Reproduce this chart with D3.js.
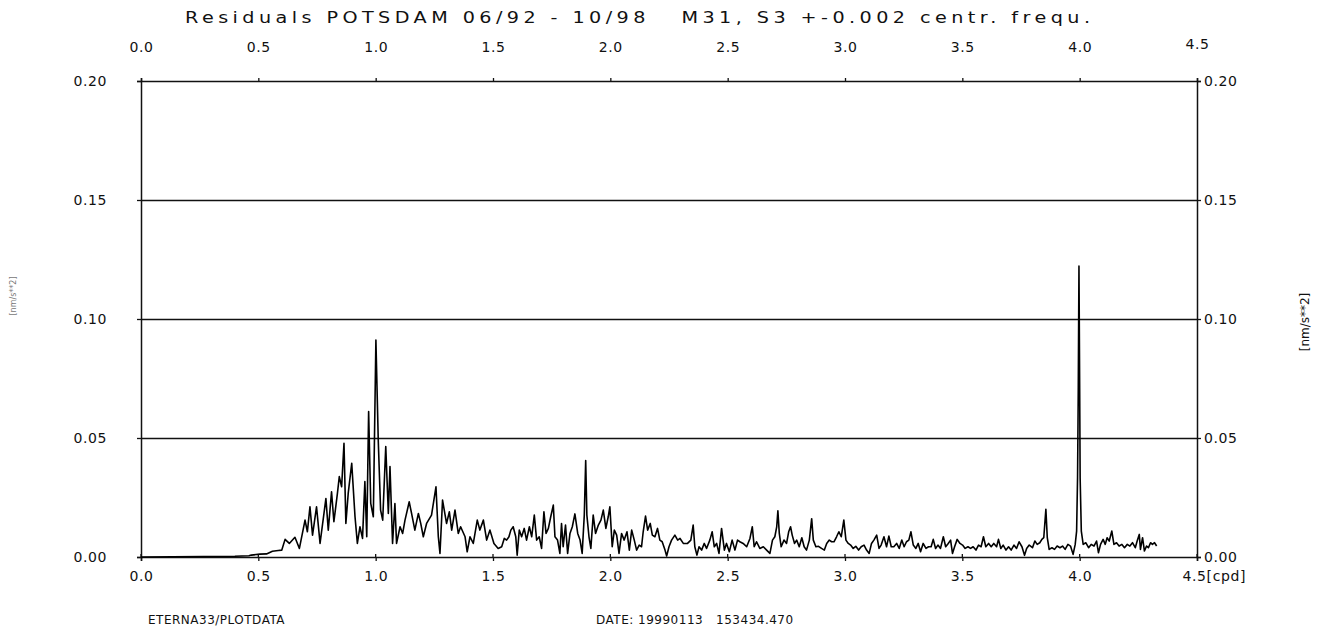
<!DOCTYPE html>
<html>
<head>
<meta charset="utf-8">
<script src="https://cdn.jsdelivr.net/npm/d3@7"></script>
<style>
  body { margin: 0; background: #fff; }
  svg { display: block; }
  text { font-family: "DejaVu Sans", sans-serif; fill: #111; }
</style>
</head>
<body>
<div id="chart"></div>
<script>
// frequency (cpd) of each vertex of the residual spectrum
var freq = [0.00, 0.40, 0.46, 0.470, 0.507, 0.535, 0.560, 0.585, 0.600, 0.614, 0.632, 0.656, 0.675, 0.699, 0.709, 0.720, 0.731, 0.748, 0.763, 0.788, 0.798,
  0.812, 0.822, 0.837, 0.845, 0.855, 0.865, 0.873, 0.883, 0.898, 0.912, 0.922, 0.933, 0.944, 0.954, 0.962, 0.970, 0.979, 0.990,
  1.001, 1.011, 1.021, 1.030, 1.043, 1.054, 1.061, 1.072, 1.082, 1.089, 1.104, 1.115, 1.125, 1.143, 1.153, 1.167, 1.182, 1.192,
  1.203, 1.217, 1.238, 1.257, 1.267, 1.274, 1.285, 1.302, 1.314, 1.324, 1.338, 1.352, 1.362, 1.381, 1.390, 1.402, 1.416, 1.433,
  1.444, 1.459, 1.473, 1.487, 1.504,
  1.522, 1.537, 1.548, 1.558, 1.568, 1.576, 1.586, 1.597, 1.603, 1.612, 1.622, 1.633, 1.643, 1.655, 1.665, 1.676, 1.686, 1.697,
  1.707, 1.717, 1.726, 1.736, 1.746, 1.757, 1.764, 1.775, 1.785, 1.792, 1.799, 1.809, 1.818, 1.828, 1.838, 1.849, 1.861, 1.871,
  1.880, 1.889, 1.895, 1.900, 1.909, 1.917, 1.927, 1.937, 1.949, 1.960, 1.970, 1.981, 1.991, 1.998, 2.008, 2.017, 2.027, 2.037,
  2.048, 2.059, 2.071, 2.081, 2.091, 2.102, 2.112, 2.123, 2.133, 2.140, 2.150, 2.159, 2.170, 2.179, 2.190, 2.201, 2.211, 2.221,
  2.233, 2.240, 2.250, 2.261, 2.275, 2.287, 2.297, 2.311, 2.329, 2.343, 2.353, 2.360, 2.369, 2.378, 2.389, 2.400, 2.410, 2.424,
  2.434, 2.443, 2.453, 2.463, 2.474, 2.486, 2.495, 2.507, 2.519, 2.531, 2.542, 2.552, 2.566, 2.581, 2.595, 2.605, 2.613, 2.623,
  2.637, 2.652, 2.666, 2.680, 2.691, 2.701, 2.709, 2.714, 2.720, 2.728, 2.740, 2.751, 2.760, 2.768, 2.775, 2.785, 2.794, 2.805,
  2.816, 2.826, 2.836, 2.848, 2.858, 2.865, 2.876, 2.887, 2.900, 2.912, 2.922, 2.933, 2.943, 2.953, 2.964, 2.974, 2.984, 2.995,
  3.004, 3.014, 3.024, 3.035, 3.046, 3.058, 3.069, 3.081, 3.092, 3.103, 3.113, 3.123, 3.135, 3.145, 3.154, 3.166, 3.177, 3.187,
  3.197, 3.208, 3.220, 3.231, 3.242, 3.252, 3.262, 3.272, 3.281, 3.291, 3.302, 3.312, 3.322, 3.333, 3.345, 3.356, 3.367, 3.376,
  3.386, 3.396, 3.407, 3.419, 3.429, 3.440, 3.450, 3.458, 3.467, 3.478, 3.490, 3.501, 3.512, 3.524, 3.535, 3.546, 3.558, 3.569,
  3.580, 3.590, 3.600, 3.612, 3.623, 3.634, 3.646, 3.654, 3.664, 3.674, 3.686, 3.697, 3.708, 3.720, 3.731, 3.742, 3.754, 3.765,
  3.774, 3.785, 3.799, 3.809, 3.819, 3.830, 3.839, 3.847, 3.856, 3.862, 3.870, 3.882, 3.893, 3.904, 3.916, 3.927, 3.938, 3.950,
  3.961, 3.972, 3.981, 3.987, 3.991, 3.994, 3.997, 4.000, 4.002, 4.007, 4.015, 4.026, 4.038, 4.049, 4.061, 4.072, 4.080, 4.089,
  4.100, 4.109, 4.117, 4.126, 4.137, 4.146, 4.157, 4.168, 4.180, 4.191, 4.203, 4.214, 4.225, 4.237, 4.245, 4.254, 4.259, 4.268,
  4.276, 4.285, 4.293, 4.302, 4.310, 4.319, 4.328];

// amplitude [nm/s**2] at each vertex
var amp = [0.0000, 0.0003, 0.0005, 0.0008, 0.0012, 0.0013, 0.0024, 0.0027, 0.0029, 0.0074, 0.0057, 0.0083, 0.0036, 0.0155, 0.0106, 0.0211, 0.0092, 0.0211, 0.0057, 0.0246, 0.0113,
  0.0274, 0.0148, 0.0267, 0.0338, 0.0295, 0.0478, 0.0141, 0.0267, 0.0394, 0.0169, 0.0057, 0.0127, 0.0078, 0.0317, 0.0085, 0.0611, 0.0225, 0.0169,
  0.0912, 0.0492, 0.0197, 0.0155, 0.0464, 0.0183, 0.0380, 0.0057, 0.0225, 0.0057, 0.0127, 0.0099, 0.0155, 0.0232, 0.0183, 0.0113, 0.0183, 0.0141,
  0.0085, 0.0141, 0.0176, 0.0295, 0.0085, 0.0015, 0.0239, 0.0141, 0.0190, 0.0113, 0.0197, 0.0099, 0.0127, 0.0085, 0.0022, 0.0085, 0.0057, 0.0155,
  0.0113, 0.0155, 0.0071, 0.0113, 0.0057,
  0.0036, 0.0043, 0.0078, 0.0071, 0.0085, 0.0113, 0.0127, 0.0085, 0.0008, 0.0113, 0.0085, 0.0120, 0.0071, 0.0127, 0.0085, 0.0176, 0.0071, 0.0085,
  0.0036, 0.0190, 0.0099, 0.0120, 0.0169, 0.0218, 0.0085, 0.0071, 0.0015, 0.0141, 0.0043, 0.0134, 0.0015, 0.0099, 0.0127, 0.0181, 0.0099, 0.0071,
  0.0015, 0.0176, 0.0405, 0.0176, 0.0085, 0.0036, 0.0176, 0.0099, 0.0134, 0.0155, 0.0197, 0.0120, 0.0169, 0.0211, 0.0043, 0.0113, 0.0092, 0.0015,
  0.0099, 0.0071, 0.0106, 0.0029, 0.0113, 0.0071, 0.0029, 0.0050, 0.0043, 0.0106, 0.0172, 0.0113, 0.0141, 0.0092, 0.0085, 0.0120, 0.0071, 0.0064,
  0.0029, 0.0004, 0.0043, 0.0071, 0.0092, 0.0071, 0.0078, 0.0057, 0.0057, 0.0071, 0.0134, 0.0043, 0.0008, 0.0043, 0.0029, 0.0057, 0.0036, 0.0071,
  0.0106, 0.0043, 0.0057, 0.0015, 0.0120, 0.0029, 0.0057, 0.0022, 0.0071, 0.0029, 0.0071, 0.0064, 0.0057, 0.0043, 0.0078, 0.0127, 0.0043, 0.0064,
  0.0036, 0.0043, 0.0029, 0.0015, 0.0071, 0.0085, 0.0127, 0.0194, 0.0099, 0.0043, 0.0071, 0.0057, 0.0106, 0.0127, 0.0092, 0.0057, 0.0071, 0.0043,
  0.0081, 0.0043, 0.0029, 0.0071, 0.0161, 0.0071, 0.0043, 0.0045, 0.0036, 0.0029, 0.0057, 0.0071, 0.0064, 0.0064, 0.0085, 0.0106, 0.0085, 0.0155,
  0.0071, 0.0057, 0.0050, 0.0036, 0.0045, 0.0029, 0.0043, 0.0050, 0.0029, 0.0015, 0.0057, 0.0071, 0.0092, 0.0036, 0.0050, 0.0085, 0.0043, 0.0088,
  0.0043, 0.0043, 0.0057, 0.0036, 0.0071, 0.0043, 0.0064, 0.0071, 0.0106, 0.0050, 0.0036, 0.0057, 0.0022, 0.0057, 0.0036, 0.0043, 0.0043, 0.0074,
  0.0036, 0.0050, 0.0036, 0.0085, 0.0043, 0.0057, 0.0071, 0.0015, 0.0043, 0.0074, 0.0057, 0.0050, 0.0036, 0.0043, 0.0036, 0.0043, 0.0029, 0.0050,
  0.0043, 0.0085, 0.0043, 0.0057, 0.0043, 0.0057, 0.0043, 0.0074, 0.0036, 0.0050, 0.0029, 0.0043, 0.0029, 0.0050, 0.0036, 0.0064, 0.0043, 0.0007,
  0.0036, 0.0050, 0.0039, 0.0067, 0.0053, 0.0060, 0.0074, 0.0081, 0.0200, 0.0081, 0.0032, 0.0039, 0.0032, 0.0046, 0.0039, 0.0046, 0.0032, 0.0053,
  0.0046, 0.0011, 0.0053, 0.0109, 0.0333, 0.0697, 0.1222, 0.0711, 0.0333, 0.0109, 0.0053, 0.0060, 0.0039, 0.0053, 0.0046, 0.0067, 0.0018, 0.0053,
  0.0074, 0.0053, 0.0081, 0.0067, 0.0109, 0.0053, 0.0060, 0.0046, 0.0053, 0.0039, 0.0053, 0.0046, 0.0060, 0.0039, 0.0067, 0.0095, 0.0032, 0.0081,
  0.0025, 0.0046, 0.0039, 0.0060, 0.0053, 0.0060, 0.0046];

var xTicks = [0.0, 0.5, 1.0, 1.5, 2.0, 2.5, 3.0, 3.5, 4.0, 4.5];
var yTicks = [0.00, 0.05, 0.10, 0.15, 0.20];
var gridLevels = [0.05, 0.10, 0.15];

var titleText = "Residuals POTSDAM 06/92 - 10/98   M31, S3 +-0.002 centr. frequ.";
var unitText = "[nm/s**2]";
var footLeft = "ETERNA33/PLOTDATA";
var footRight = "DATE: 19990113   153434.470";

var svgWidth = 1325, svgHeight = 633;
var margin = { top: 81, right: 128, bottom: 76, left: 141 };
var width = svgWidth - margin.left - margin.right;
var height = svgHeight - margin.top - margin.bottom;

var svg = d3.select("#chart").append("svg")
  .attr("width", svgWidth)
  .attr("height", svgHeight);

var chartGroup = svg.append("g")
  .attr("transform", `translate(${margin.left}, ${margin.top})`);

var xScale = d3.scaleLinear().domain([0, 4.5]).range([0, width]);
var yScale = d3.scaleLinear().domain([0, 0.20]).range([height, 0]);

var fmtX = d3.format(".1f");
var fmtY = d3.format(".2f");

// grid lines
chartGroup.append("g").selectAll("line")
  .data(gridLevels)
  .enter().append("line")
  .attr("x1", 0).attr("x2", width)
  .attr("y1", d => Math.round(yScale(d)) + 0.5).attr("y2", d => Math.round(yScale(d)) + 0.5)
  .attr("stroke", "#111").attr("stroke-width", 1.4);

// axes
var bottomAxis = d3.axisBottom(xScale).tickValues(xTicks).tickSize(4).tickPadding(10)
  .tickFormat(d => d === 4.5 ? "4.5[cpd]" : fmtX(d));
var topAxis = d3.axisTop(xScale).tickValues(xTicks).tickSize(3).tickPadding(26).tickFormat(fmtX);
var leftAxis = d3.axisLeft(yScale).tickValues(yTicks).tickSize(4).tickPadding(30).tickFormat(fmtY);
var rightAxis = d3.axisRight(yScale).tickValues(yTicks).tickSize(4).tickPadding(3).tickFormat(fmtY);

function styleAxis(g) {
  g.select(".domain").attr("stroke", "#111").attr("stroke-width", 1.5);
  g.selectAll(".tick line").attr("stroke", "#111").attr("stroke-width", 1.3);
  g.selectAll(".tick text")
    .style("font-family", "'DejaVu Sans', sans-serif")
    .style("font-size", "14px")
    .style("letter-spacing", "0.6px")
    .attr("fill", "#1a1a1a");
}

chartGroup.append("g").attr("transform", `translate(0, ${height})`).call(bottomAxis).call(styleAxis)
  .selectAll(".tick text").filter(d => d === 4.5)
  .attr("text-anchor", "start").attr("dx", -15);
chartGroup.append("g").call(topAxis).call(styleAxis)
  .selectAll(".tick text").filter(d => d === 4.5).attr("dy", -3);
chartGroup.append("g").call(leftAxis).call(styleAxis);
chartGroup.append("g").attr("transform", `translate(${width}, 0)`).call(rightAxis).call(styleAxis);

// inner cross ticks on bottom axis
chartGroup.append("g").selectAll("line")
  .data(xTicks)
  .enter().append("line")
  .attr("x1", d => xScale(d)).attr("x2", d => xScale(d))
  .attr("y1", height - 3).attr("y2", height)
  .attr("stroke", "#111").attr("stroke-width", 1.3);

// spectrum line
var pts = freq.map((f, i) => ({ f: f, a: amp[i] }));
var line = d3.line().x(d => xScale(d.f)).y(d => yScale(d.a));
chartGroup.append("path")
  .datum(pts)
  .attr("d", line)
  .attr("fill", "none")
  .attr("stroke", "#000")
  .attr("stroke-width", 1.6)
  .attr("stroke-linejoin", "round");

// title (wide plotter-style lettering)
svg.append("g")
  .attr("transform", "translate(185, 23) scale(1.2, 1)")
  .append("text")
  .attr("x", 0).attr("y", 0)
  .attr("textLength", 905 / 1.2).attr("lengthAdjust", "spacing")
  .style("font-size", "16px")
  .attr("fill", "#1a1a1a")
  .attr("xml:space", "preserve")
  .text(titleText);

// unit labels
svg.append("text")
  .attr("transform", "translate(1309, 322) rotate(-90)")
  .attr("text-anchor", "middle")
  .style("font-size", "12px")
  .text(unitText);
svg.append("text")
  .attr("transform", "translate(16, 296) rotate(-90)")
  .attr("text-anchor", "middle")
  .style("font-size", "8px")
  .style("fill", "#777")
  .text(unitText);

// footer
svg.append("text")
  .attr("x", 148).attr("y", 624)
  .style("font-size", "12px").style("letter-spacing", "0.5px")
  .text(footLeft);
svg.append("text")
  .attr("x", 596).attr("y", 624)
  .style("font-size", "12px").style("letter-spacing", "0.5px")
  .attr("xml:space", "preserve")
  .text(footRight);
</script>
</body>
</html>
